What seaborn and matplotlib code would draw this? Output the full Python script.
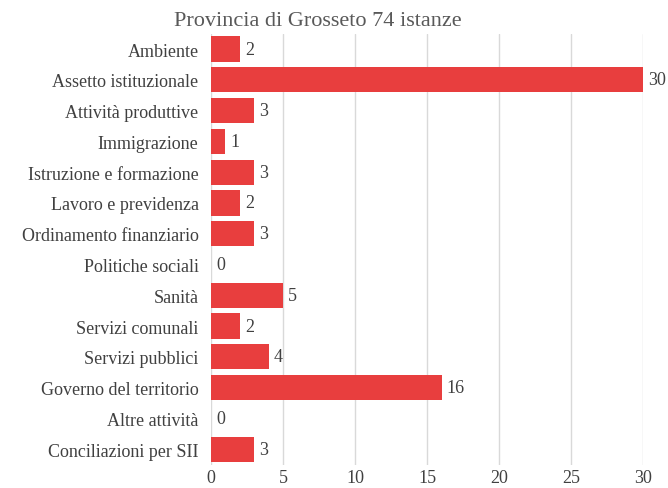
import seaborn as sns
import pandas as pd
from matplotlib import pyplot as plt

categories = ['Ambiente', 'Assetto istituzionale', 'Attività produttive', 'Immigrazione',
              'Istruzione e formazione', 'Lavoro e previdenza', 'Ordinamento finanziario',
              'Politiche sociali', 'Sanità', 'Servizi comunali', 'Servizi pubblici',
              'Governo del territorio', 'Altre attività', 'Conciliazioni per SII']
istanze = [2, 30, 3, 1, 3, 2, 3, 0, 5, 2, 4, 16, 0, 3]
x_ticks = [0, 5, 10, 15, 20, 25, 30]

df = pd.DataFrame({'categoria': categories, 'istanze': istanze})

sns.set_style('white')
plt.rcParams['font.family'] = ['Liberation Serif', 'DejaVu Serif']
text_col = '#404040'

fig = plt.figure(figsize=(6.68, 4.89), dpi=100)
ax = fig.add_axes([0.316, 0.048, 0.647, 0.881])
sns.barplot(data=df, x='istanze', y='categoria', orient='h', color='#E83E3E',
            saturation=1, width=0.82, linewidth=0, ax=ax, zorder=3)
ax.bar_label(ax.containers[0], padding=3.5, fontsize=13, color=text_col)

ax.set_xlim(0, 30)
ax.set_xticks(x_ticks)
ax.xaxis.grid(True, color='#d9d9d9', linewidth=1, zorder=0)
ax.set_axisbelow(True)
sns.despine(ax=ax, left=True, bottom=True, top=True, right=True)
ax.set_xlabel(None)
ax.set_ylabel(None)
ax.tick_params(axis='both', length=0, labelsize=13, colors=text_col)
ax.tick_params(axis='y', pad=9)
ax.tick_params(axis='x', pad=3)

fig.text(0.476, 0.957, 'Provincia di Grosseto 74 istanze', ha='center', va='center',
         fontsize=16, color='#595959')

fig.savefig('out.png', dpi=100)
